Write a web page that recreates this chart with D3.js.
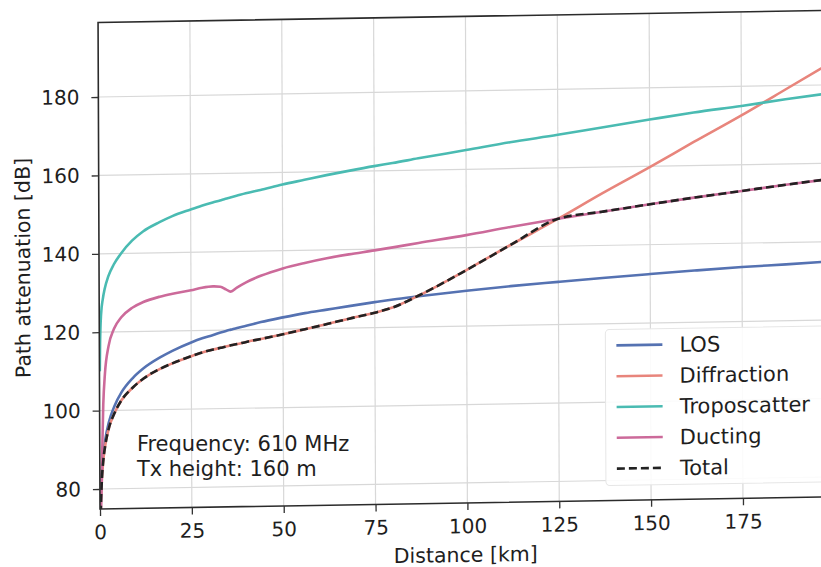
<!DOCTYPE html>
<html><head><meta charset="utf-8">
<script src="https://cdn.jsdelivr.net/npm/d3@7"></script>
<style>
body{margin:0;background:#fff;}
svg{display:block;font-family:"DejaVu Sans",sans-serif;}
</style>
</head><body>
<svg id="chart" width="821" height="567"></svg>
<script>
// ---- data ----
const distances = [0.1, 0.2, 0.5, 1, 1.5, 2.5, 4, 6, 9, 12, 16.5, 20, 25, 28, 31, 33, 34.5, 35.8, 37.5, 40, 44, 50, 56, 62, 68, 75, 80, 87, 100, 112, 125, 137, 150, 162, 175, 187, 200];
const losValues = [69, 75, 83, 89, 92.5, 97, 101, 104.6, 108.1, 110.6, 113.3, 115, 117, 118, 118.8, 119.4, 119.8, 120.1, 120.5, 121, 121.9, 123, 124, 124.8, 125.6, 126.5, 127.1, 127.8, 129, 130, 130.9, 131.7, 132.5, 133.2, 133.9, 134.4, 135];
const diffractionValues = [67.5, 73.5, 81.5, 87.7, 91.1, 95.5, 99.2, 102.6, 105.7, 108, 110.4, 111.8, 113.5, 114.4, 115.1, 115.5, 115.8, 116.1, 116.4, 116.9, 117.6, 118.7, 119.9, 121.1, 122.4, 123.8, 125.1, 128, 134.3, 140.5, 147, 153.3, 159.8, 166, 172.6, 179, 186];
const troposcatterValues = [110, 117, 124.5, 128.5, 131, 134.2, 137.2, 140, 143.2, 145.5, 147.8, 149.3, 150.9, 151.8, 152.6, 153.1, 153.5, 153.8, 154.2, 154.8, 155.6, 156.9, 158, 159.1, 160.1, 161.2, 161.9, 163, 164.9, 166.7, 168.4, 170.1, 171.9, 173.5, 175, 176.5, 178];
const ductingValues = [65, 72, 83, 101.5, 109.5, 116.4, 120.8, 123.7, 126.1, 127.5, 128.8, 129.5, 130.3, 130.9, 131.2, 131.1, 130.4, 129.8, 130.8, 132.1, 133.7, 135.5, 136.8, 137.9, 138.8, 139.7, 140.4, 141.4, 143.2, 145.1, 147, 148.6, 150.3, 151.8, 153.3, 154.7, 156.1];
const totalValues = [67.5, 73.5, 81.5, 87.7, 91.1, 95.5, 99.2, 102.6, 105.7, 108, 110.4, 111.8, 113.5, 114.4, 115.1, 115.5, 115.8, 116.1, 116.4, 116.9, 117.6, 118.7, 119.9, 121.1, 122.4, 123.8, 125.1, 128, 134.3, 140.5, 147, 148.6, 150.3, 151.8, 153.3, 154.7, 156.1];
const seriesNames = ["LOS", "Diffraction", "Troposcatter", "Ducting", "Total"];
const xTicks = [0, 25, 50, 75, 100, 125, 150, 175];
const yTicks = [80, 100, 120, 140, 160, 180];
const xLabel = "Distance [km]";
const yLabel = "Path attenuation [dB]";
const noteLines = ["Frequency: 610 MHz", "Tx height: 160 m"];

// ---- styles ----
const seriesStyle = {
  "LOS": {color: "#5572b2", dash: null},
  "Diffraction": {color: "#e8857c", dash: null},
  "Troposcatter": {color: "#4abbb2", dash: null},
  "Ducting": {color: "#cc6a9a", dash: null},
  "Total": {color: "#222222", dash: "8,4"}
};
const seriesValues = [losValues, diffractionValues, troposcatterValues, ductingValues, totalValues];

const svg = d3.select("#chart");
// slight skew of the scanned original
const M = {a: 1, b: -0.0166, c: 0.004, d: 1, e: -2.036, f: 1.66};
const g = svg.append("g").attr("transform", `matrix(${M.a},${M.b},${M.c},${M.d},${M.e},${M.f})`);
const skewPt = (px, py) => [M.a * px + M.c * py + M.e, M.b * px + M.d * py + M.f];

const x = d3.scaleLinear().domain([0, 198]).range([100, 100 + 198 * 3.674]);
const y = d3.scaleLinear().domain([74.9, 199]).range([509, 22.5]);
const [x0, x1] = x.range();
const [yb, yt] = y.range();

// grid
g.append("g").selectAll("line").data(yTicks).join("line")
  .attr("x1", x0).attr("x2", x1).attr("y1", d => y(d)).attr("y2", d => y(d))
  .attr("stroke", "#d8d8d8").attr("stroke-width", 1.2);
g.append("g").selectAll("line").data(xTicks.filter(d => d > 0)).join("line")
  .attr("x1", d => x(d)).attr("x2", d => x(d)).attr("y1", yb).attr("y2", yt)
  .attr("stroke", "#d8d8d8").attr("stroke-width", 1.2);

// clip
svg.append("defs").append("clipPath").attr("id", "clip")
  .append("rect").attr("x", x0).attr("y", yt).attr("width", x1 - x0).attr("height", yb - yt);

const line = d3.line().x(d => x(d[0])).y(d => y(d[1])).curve(d3.curveMonotoneX);
const lines = g.append("g").attr("clip-path", "url(#clip)");
seriesNames.forEach((name, i) => {
  const pts = distances.map((d, j) => [d, seriesValues[i][j]]);
  lines.append("path").datum(pts)
    .attr("d", line)
    .attr("fill", "none")
    .attr("stroke", seriesStyle[name].color)
    .attr("stroke-width", 2.6)
    .attr("stroke-dasharray", seriesStyle[name].dash)
    .attr("stroke-linejoin", "round");
});

// annotation (unskewed, placed at the skewed anchor)
const notePt = skewPt(x(10.1), y(89.5));
noteLines.forEach((t, i) => {
  svg.append("text").attr("x", notePt[0]).attr("y", notePt[1] + i * 24.6)
    .attr("font-size", 21).attr("fill", "#1e1e1e").text(t);
});

// legend
const lg = g.append("g");
lg.append("rect").attr("x", 606).attr("y", 338).attr("width", 240).attr("height", 156)
  .attr("rx", 4).attr("fill", "#fff").attr("fill-opacity", 0.88)
  .attr("stroke", "#e6e6e6").attr("stroke-width", 1);
seriesNames.forEach((name, i) => {
  const yy = 354 + i * 30.8;
  lg.append("line").attr("x1", 617).attr("x2", 663).attr("y1", yy).attr("y2", yy)
    .attr("stroke", seriesStyle[name].color).attr("stroke-width", 2.6)
    .attr("stroke-dasharray", seriesStyle[name].dash);
  lg.append("text").attr("x", 680).attr("y", yy + 7.5).attr("font-size", 21)
    .attr("fill", "#1e1e1e").text(name);
});

// spines
g.append("rect").attr("x", x0).attr("y", yt).attr("width", x1 - x0).attr("height", yb - yt)
  .attr("fill", "none").attr("stroke", "#2b2b2b").attr("stroke-width", 1.6);

// axes
const ax = g.append("g").attr("transform", `translate(0,${yb})`)
  .call(d3.axisBottom(x).tickValues(xTicks).tickFormat(d3.format("d")).tickSize(7).tickPadding(9));
const ay = g.append("g").attr("transform", `translate(${x0},0)`)
  .call(d3.axisLeft(y).tickValues(yTicks).tickFormat(d3.format("d")).tickSize(7).tickPadding(12));
[ax, ay].forEach(a => {
  a.select(".domain").remove();
  a.selectAll(".tick line").attr("stroke", "#333").attr("stroke-width", 1.3);
  a.selectAll(".tick text").attr("font-size", 20).attr("fill", "#1e1e1e")
    .attr("font-family", "DejaVu Sans, sans-serif");
});

// axis labels
g.append("text").attr("x", (x0 + Math.min(x1, 821)) / 2 + 5).attr("y", 568)
  .attr("text-anchor", "middle").attr("font-size", 20.5).attr("fill", "#1e1e1e").text(xLabel);
g.append("text").attr("transform", `translate(31,${(yb + yt) / 2 + 1}) rotate(-90)`)
  .attr("text-anchor", "middle").attr("font-size", 20.5).attr("fill", "#1e1e1e").text(yLabel);
</script>
</body></html>
